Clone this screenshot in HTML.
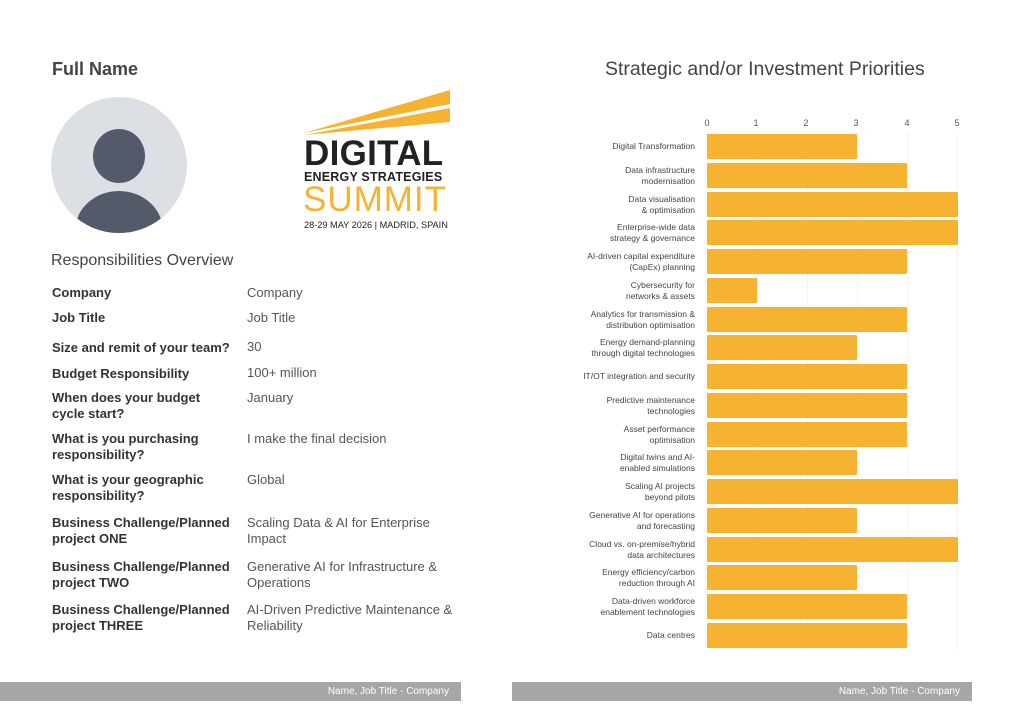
<!DOCTYPE html>
<html><head><meta charset="utf-8"><style>
*{margin:0;padding:0;box-sizing:border-box}
body{width:1024px;height:724px;background:#fff;position:relative;overflow:hidden;font-family:"Liberation Sans",sans-serif;color:#444}
.a{position:absolute}
.lab{position:absolute;font-size:13px;font-weight:bold;color:#333;line-height:16px;left:52px;width:180px}
.val{position:absolute;font-size:13px;color:#555;line-height:16px;left:247px;width:225px}
.cl{position:absolute;right:329px;font-size:8.5px;color:#444;text-align:right;line-height:11px;white-space:nowrap}
.bar{position:absolute;left:707px;height:25px;background:#f6b332;border-radius:1px}
.tk{position:absolute;top:118px;font-size:9px;color:#555;width:10px;text-align:center}
.gl{position:absolute;top:132px;width:1px;height:518px;background:#f4f4f4}
.foot{position:absolute;top:682px;height:19px;background:#a6a6a6;color:#fff;font-size:10px;text-align:right;padding-right:12px;line-height:19px}
</style></head><body>
<div class="a" style="left:52px;top:59px;font-size:18px;font-weight:bold;color:#444">Full Name</div>
<div class="a" style="left:51px;top:97px;width:136px;height:136px;border-radius:50%;background:#dcdfe4;overflow:hidden">
 <div class="a" style="left:42px;top:32px;width:52px;height:54px;border-radius:50%;background:#535a6a"></div>
 <div class="a" style="left:24px;top:94px;width:88px;height:80px;border-radius:50%;background:#535a6a"></div>
</div>
<svg class="a" style="left:300px;top:88px" width="152" height="50"><polygon points="4,47 150,20 150,34" fill="#f6b332"/><polygon points="4,45 150,2 150,16" fill="#f6b332"/></svg>
<div class="a" style="left:304px;top:137px;font-size:35px;font-weight:bold;color:#222;letter-spacing:0.3px;line-height:34px">DIGITAL</div>
<div class="a" style="left:304px;top:170px;font-size:12.5px;font-weight:bold;color:#222;line-height:14px;white-space:nowrap;letter-spacing:0.2px">ENERGY STRATEGIES</div>
<div class="a" style="left:303px;top:182px;font-size:35px;color:#f6b332;line-height:36px;letter-spacing:1px">SUMMIT</div>
<div class="a" style="left:304px;top:220px;font-size:9.2px;color:#222;white-space:nowrap">28-29 MAY 2026 | MADRID, SPAIN</div>
<div class="a" style="left:51px;top:252px;font-size:16px;color:#444">Responsibilities Overview</div>
<div class="lab" style="top:285px">Company</div><div class="val" style="top:285px">Company</div>
<div class="lab" style="top:310px">Job Title</div><div class="val" style="top:310px">Job Title</div>
<div class="lab" style="top:340px">Size and remit of your team?</div><div class="val" style="top:339px">30</div>
<div class="lab" style="top:366px">Budget Responsibility</div><div class="val" style="top:365px">100+ million</div>
<div class="lab" style="top:390px">When does your budget cycle start?</div><div class="val" style="top:390px">January</div>
<div class="lab" style="top:431px">What is you purchasing responsibility?</div><div class="val" style="top:431px">I make the final decision</div>
<div class="lab" style="top:472px">What is your geographic responsibility?</div><div class="val" style="top:472px">Global</div>
<div class="lab" style="top:515px">Business Challenge/Planned project ONE</div><div class="val" style="top:515px;width:190px">Scaling Data &amp; AI for Enterprise Impact</div>
<div class="lab" style="top:559px">Business Challenge/Planned project TWO</div><div class="val" style="top:559px;width:205px">Generative AI for Infrastructure &amp; Operations</div>
<div class="lab" style="top:602px">Business Challenge/Planned project THREE</div><div class="val" style="top:602px">AI-Driven Predictive Maintenance &amp; Reliability</div>
<div class="a" style="left:605px;top:58px;font-size:19.5px;color:#444;white-space:nowrap">Strategic and/or Investment Priorities</div>
<div class="gl" style="left:707px"></div><div class="gl" style="left:757px"></div><div class="gl" style="left:807px"></div><div class="gl" style="left:857px"></div><div class="gl" style="left:907px"></div><div class="gl" style="left:957px"></div>
<div class="tk" style="left:702px">0</div><div class="tk" style="left:751px">1</div><div class="tk" style="left:801px">2</div><div class="tk" style="left:851px">3</div><div class="tk" style="left:902px">4</div><div class="tk" style="left:952px">5</div>
<div id="bars"></div>
<script>
var d=[["Digital Transformation",3],["Data infrastructure<br>modernisation",4],["Data visualisation<br>&amp; optimisation",5],["Enterprise-wide data<br>strategy &amp; governance",5],["AI-driven capital expenditure<br>(CapEx) planning",4],["Cybersecurity for<br>networks &amp; assets",1],["Analytics for transmission &amp;<br>distribution optimisation",4],["Energy demand-planning<br>through digital technologies",3],["IT/OT integration and security",4],["Predictive maintenance<br>technologies",4],["Asset performance<br>optimisation",4],["Digital twins and AI-<br>enabled simulations",3],["Scaling AI projects<br>beyond pilots",5],["Generative AI for operations<br>and forecasting",3],["Cloud vs. on-premise/hybrid<br>data architectures",5],["Energy efficiency/carbon<br>reduction through AI",3],["Data-driven workforce<br>enablement technologies",4],["Data centres",4]];
var h="";d.forEach(function(r,i){var t=134+i*28.76;var two=r[0].indexOf("<br>")>=0;
h+='<div class="bar" style="top:'+t+'px;width:'+(r[1]*50.1)+'px"></div>';
h+='<div class="cl" style="top:'+(t+(two?2:7))+'px">'+r[0]+'</div>';});
document.getElementById("bars").innerHTML=h;
</script>
<div class="foot" style="left:0;width:461px">Name, Job Title - Company</div>
<div class="foot" style="left:512px;width:460px">Name, Job Title - Company</div>
</body></html>
